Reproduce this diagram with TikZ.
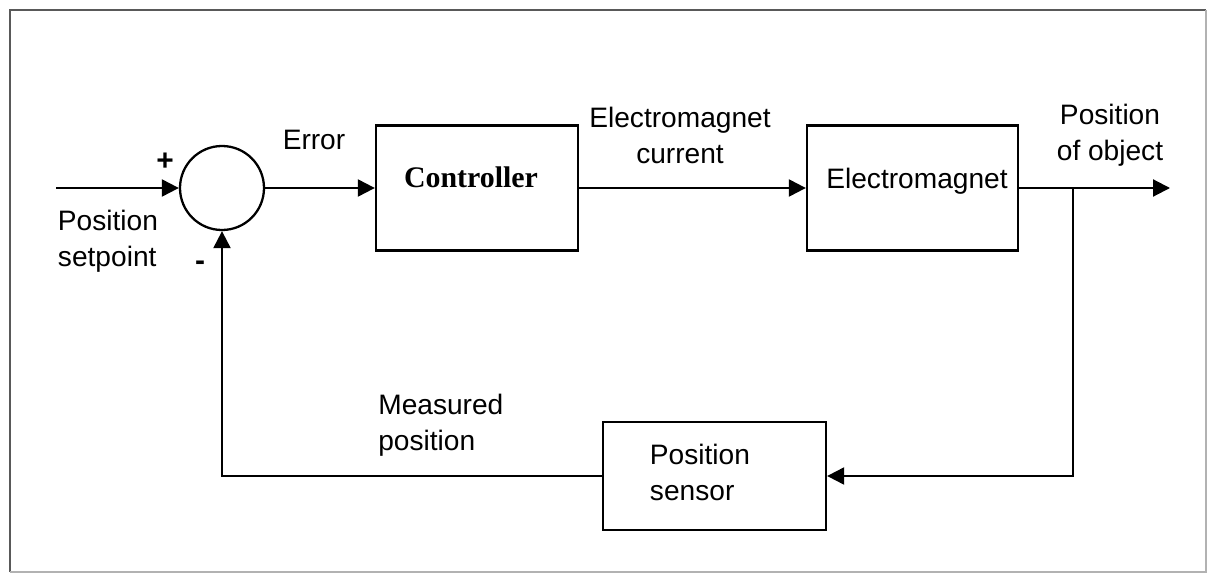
\documentclass[tikz,border=0pt]{standalone}
\usepackage{fontspec}
\setmainfont{Liberation Sans}
\newfontfamily\serifbold{Liberation Serif}
\usetikzlibrary{positioning,arrows.meta,calc}
\tikzset{
  sig/.style={-{Triangle[length=3.4mm,width=3.4mm]},line width=1.2pt},
  blk/.style={draw,line width=1.3pt,rectangle,inner sep=0pt},
  sumc/.style={draw,circle,line width=1.3pt,minimum size=1.68cm,inner sep=0pt},
  lbl/.style={font=\fontsize{16}{20.5}\selectfont,inner sep=0pt},
  frm/.style={line width=1.3pt,black!65},
}
\begin{document}
\begin{tikzpicture}
  \useasboundingbox (0,0) rectangle (24.16,11.48);
  % outer frame
  \draw[frm] (0.2,0.04) -- (0.2,11.28) -- (24.12,11.28);
  \draw[frm,black!30] (24.12,11.28) -- (24.12,0.04) -- (0.2,0.04);

  % blocks
  \node[sumc] (sum) at (4.44,7.72) {};
  \node[blk,minimum width=4.04cm,minimum height=2.5cm] (ctrl) at (9.54,7.72) {};
  \node[blk,minimum width=4.22cm,minimum height=2.5cm] (em) at (18.25,7.72) {};
  \node[blk,minimum width=4.46cm,minimum height=2.16cm] (sens) at (14.29,1.96) {};

  % block texts
  \node[lbl,anchor=base,font=\fontsize{17}{20}\serifbold\bfseries] (ctrltxt) at (9.42,7.74) {Controller};
  \node[lbl,anchor=base] (emtxt) at (18.34,7.72) {Electromagnet};
  \node[lbl,align=left] (senstxt) at (14.0,2.04) {Position\\sensor};

  % signal labels
  \node[lbl,font=\fontsize{17}{20}\selectfont\bfseries] (plus) at (3.3,8.24) {+};
  \node[lbl,font=\fontsize{17}{20}\selectfont\bfseries] (minus) at (4.0,6.16) {-};
  \node[lbl,align=left] (setp) at (2.16,6.66) {Position\\setpoint};
  \node[lbl,anchor=base] (err) at (6.28,8.48) {Error};
  \node[lbl,align=center] (emcur) at (13.6,8.78) {Electromagnet\\current};
  \node[lbl,align=center] (pobj) at (22.2,8.78) {Position\\of object};
  \node[lbl,align=left,anchor=west] (meas) at (7.56,2.98) {Measured\\position};

  % connectors
  \coordinate (in) at (1.12,7.72);
  \coordinate (br) at (21.46,7.72);
  \coordinate (out) at (23.4,7.72);
  \draw[sig] (in) -- (sum.west);
  \draw[sig] (sum.east) -- (ctrl.west);
  \draw[sig] (ctrl.east) -- (em.west);
  \draw[sig] (em.east) -- (out);
  \draw[sig] (br) |- (sens.east);
  \draw[sig] (sens.west) -| (sum.south);
\end{tikzpicture}
\end{document}
